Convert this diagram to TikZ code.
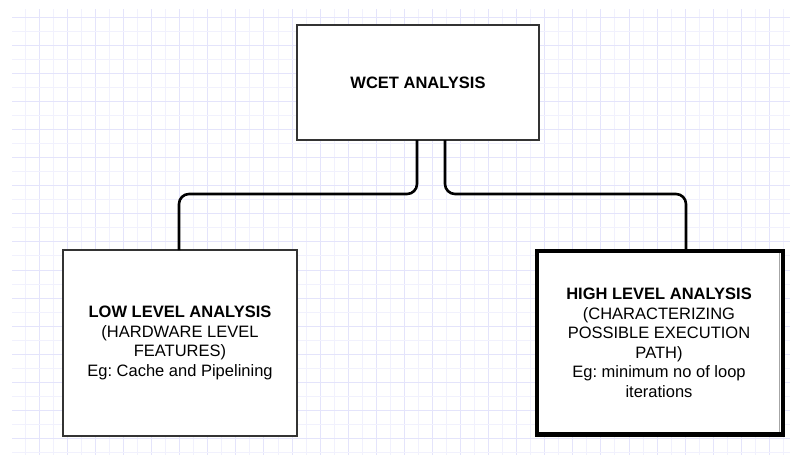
\documentclass[tikz,border=0pt]{standalone}
\usepackage{fontspec}
\setmainfont{Liberation Sans}
\frenchspacing
\definecolor{gridminor}{RGB}{241,241,253}
\definecolor{gridmajor}{RGB}{228,228,251}
\definecolor{boxline}{RGB}{51,51,51}
\tikzset{
  plainbox/.style={draw=boxline, line width=1.4pt, fill=white, rectangle,
    inner sep=0pt, outer sep=0pt, align=center,
    font=\fontsize{16.5}{19.5}\selectfont},
  textonly/.style={rectangle, inner sep=0pt, outer sep=0pt, align=center,
    font=\fontsize{16.5}{19.5}\selectfont},
  link/.style={draw=black, line width=2.6pt, rounded corners=10pt},
  gminor/.style={draw=gridminor, line width=1pt},
  gmajor/.style={draw=gridmajor, line width=1pt},
}
\begin{document}
\begin{tikzpicture}[x=1pt, y=-1pt]
  \useasboundingbox (0,0) rectangle (790,456);
  \fill[white] (0,0) rectangle (790,456);

  % background grid
  \foreach \k in {1,...,55} {
    \pgfmathsetmacro{\gx}{11.24+14.04*\k}
    \pgfmathtruncatemacro{\ev}{mod(\k,2)}
    \ifnum\ev=0
      \draw[gmajor] (\gx,9) -- (\gx,455);
    \else
      \draw[gminor] (\gx,9) -- (\gx,455);
    \fi
  }
  \foreach \k in {1,...,32} {
    \pgfmathsetmacro{\gy}{3.26+14.04*\k}
    \pgfmathtruncatemacro{\ev}{mod(\k,2)}
    \ifnum\ev=1
      \draw[gmajor] (12,\gy) -- (790,\gy);
    \else
      \draw[gminor] (12,\gy) -- (790,\gy);
    \fi
  }

  % heavy frame of the high level box
  \fill[black] (535,249) rectangle (785,437);
  \fill[white] (539,253) rectangle (781,432);
  \draw[gray!70, line width=1pt] (779,253) -- (779,432);

  % boxes
  \node[plainbox, minimum width=242pt, minimum height=115pt] (top) at (418,82.5)
    {\textbf{WCET ANALYSIS}};
  \node[plainbox, minimum width=234pt, minimum height=186pt] (low) at (180,343)
    {\textbf{LOW LEVEL ANALYSIS}\\(HARDWARE LEVEL\\FEATURES)\\Eg: Cache and Pipelining};
  \node[textonly, minimum width=244pt, minimum height=188pt] (high) at (659,343)
    {\textbf{HIGH LEVEL ANALYSIS}\\(CHARACTERIZING\\POSSIBLE EXECUTION\\PATH)\\Eg: minimum no of loop\\iterations};

  % connectors
  \draw[link] ([xshift=-1pt]top.south) -- ++(0,54) -| ([xshift=-1pt]low.north);
  \draw[link] ([xshift=27pt]top.south) -- ++(0,54) -| ([xshift=27pt]high.north);
\end{tikzpicture}
\end{document}
